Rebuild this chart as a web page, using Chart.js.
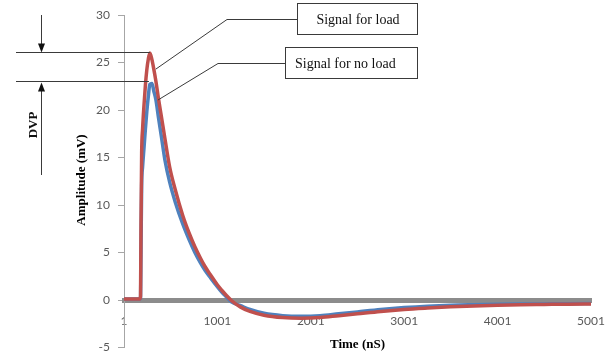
<!DOCTYPE html>
<html>
<head>
<meta charset="utf-8">
<script src="https://cdn.jsdelivr.net/npm/chart.js@4/dist/chart.umd.min.js"></script>
<style>
  html, body { margin: 0; padding: 0; background: #fff; }
  #wrap { width: 608px; height: 352px; }
</style>
</head>
<body>
<div id="wrap"><canvas id="chart" width="608" height="352"></canvas></div>
<script>
// time axis (nS) and the two measured signals (mV)
const timeNs = [1, 100, 170, 178, 183, 190, 200, 215, 230, 245, 262, 278, 300, 320, 343, 370, 400, 439, 490, 550,
  630, 700, 760, 820, 870, 930, 1000, 1050, 1100, 1150, 1250, 1350, 1500, 1700, 1900, 2100, 2300, 2500, 2750, 3000,
  3250, 3500, 3750, 4000, 4250, 4500, 4750, 5001];
const signalLoad = [0.1, 0.1, 0.1, 0.4, 8, 15.5, 18, 20.5, 22.6, 24.2, 25.4, 26.0, 25.3, 24.3, 23.0, 21.2, 19.4, 17.0, 14.0, 11.6,
  8.9, 7.0, 5.6, 4.4, 3.5, 2.6, 1.6, 1.0, 0.45, -0.05, -0.75, -1.2, -1.6, -1.85, -1.92, -1.85, -1.65, -1.45, -1.2, -1.0,
  -0.85, -0.72, -0.62, -0.55, -0.5, -0.47, -0.44, -0.42];
const signalNoLoad = [0.1, 0.1, 0.1, 0.2, 5, 12, 14, 16, 18, 19.8, 21.5, 22.7, 22.8, 22.0, 21.05, 19.2, 17.3, 14.75, 12.4, 10.3,
  8.0, 6.3, 5.0, 3.9, 3.1, 2.3, 1.4, 0.8, 0.3, -0.2, -0.6, -1.0, -1.4, -1.65, -1.72, -1.65, -1.45, -1.25, -1.0, -0.8,
  -0.65, -0.55, -0.5, -0.46, -0.43, -0.41, -0.39, -0.37];
const xTicks = [1, 1001, 2001, 3001, 4001, 5001];
const yTicks = [-5, 0, 5, 10, 15, 20, 25, 30];

// where the call-out leaders touch each curve
const loadLabelAt = 320;
const noLoadLabelAt = 343;

const serif = '"Liberation Serif", "Times New Roman", serif';
const RED = '#C0504D';
const BLUE = '#4F81BD';

function toPoints(vals) {
  return timeNs.map((t, i) => ({ x: t, y: vals[i] }));
}

function peakOf(vals) {
  let k = 0;
  vals.forEach((v, i) => { if (v > vals[k]) k = i; });
  return k;
}

function arrow(ctx, x, yFrom, yTo) {
  const dir = yTo > yFrom ? 1 : -1;
  ctx.beginPath();
  ctx.moveTo(x, yFrom);
  ctx.lineTo(x, yTo - dir * 8);
  ctx.stroke();
  ctx.beginPath();
  ctx.moveTo(x, yTo);
  ctx.lineTo(x - 3.5, yTo - dir * 9);
  ctx.lineTo(x + 3.5, yTo - dir * 9);
  ctx.closePath();
  ctx.fill();
}

function callout(ctx, box, text, textX, elbowX, tx, ty) {
  const midY = Math.round(box.y + box.h / 2) + 0.5;
  ctx.beginPath();
  ctx.moveTo(box.x, midY);
  ctx.lineTo(elbowX, midY);
  ctx.lineTo(tx, ty);
  ctx.stroke();
  ctx.strokeRect(box.x + 0.5, box.y + 0.5, box.w, box.h);
  ctx.fillText(text, textX, midY + 1);
}

const annotations = {
  id: 'annotations',
  afterDraw(chart) {
    const { ctx, chartArea, scales: { x, y } } = chart;
    ctx.save();
    ctx.strokeStyle = '#3a3a3a';
    ctx.fillStyle = '#111';
    ctx.lineWidth = 1;

    // DVP: horizontal marks at the two peaks
    const pL = peakOf(signalLoad), pN = peakOf(signalNoLoad);
    const yL = Math.round(y.getPixelForValue(signalLoad[pL]) - 1.5) + 0.5;
    const yN = Math.round(y.getPixelForValue(signalNoLoad[pN]) - 2) + 0.5;
    ctx.beginPath();
    ctx.moveTo(16, yL); ctx.lineTo(x.getPixelForValue(timeNs[pL]), yL);
    ctx.moveTo(16, yN); ctx.lineTo(x.getPixelForValue(timeNs[pN]) - 3, yN);
    ctx.stroke();
    arrow(ctx, 41.5, 15, yL);
    arrow(ctx, 41.5, 175, yN + 1);

    ctx.font = 'bold 13px ' + serif;
    ctx.textAlign = 'center';
    ctx.textBaseline = 'middle';
    ctx.save();
    ctx.translate(33.5, 125);
    ctx.rotate(-Math.PI / 2);
    ctx.fillText('DVP', 0, 0);
    ctx.restore();

    // axis titles
    ctx.fillStyle = '#000';
    ctx.save();
    ctx.translate(82, 180);
    ctx.rotate(-Math.PI / 2);
    ctx.fillText('Amplitude (mV)', 0, 0);
    ctx.restore();
    ctx.fillText('Time (nS)', (chartArea.left + chartArea.right) / 2, 345);

    // call-out boxes
    ctx.font = '14px ' + serif;
    ctx.fillStyle = '#111';
    const iL = timeNs.indexOf(loadLabelAt), iN = timeNs.indexOf(noLoadLabelAt);
    ctx.textAlign = 'center';
    callout(ctx, { x: 297, y: 3, w: 120, h: 31 }, 'Signal for load', 358, 227,
      x.getPixelForValue(timeNs[iL]) + 2, y.getPixelForValue(signalLoad[iL]));
    ctx.textAlign = 'left';
    callout(ctx, { x: 285, y: 47, w: 132, h: 31 }, 'Signal for no load', 295, 218,
      x.getPixelForValue(timeNs[iN]) + 2, y.getPixelForValue(signalNoLoad[iN]));
    ctx.restore();
  }
};

new Chart(document.getElementById('chart'), {
  type: 'line',
  data: {
    datasets: [
      {
        label: 'Signal for load',
        data: toPoints(signalLoad),
        borderColor: RED,
        borderWidth: 3.5,
        pointRadius: 0,
        cubicInterpolationMode: 'monotone'
      },
      {
        label: 'Signal for no load',
        data: toPoints(signalNoLoad),
        borderColor: BLUE,
        borderWidth: 3.5,
        pointRadius: 0,
        cubicInterpolationMode: 'monotone'
      }
    ]
  },
  options: {
    responsive: false,
    animation: false,
    devicePixelRatio: 1,
    layout: { padding: { left: 0, top: 15, right: 17, bottom: 4.5 } },
    plugins: { legend: { display: false }, tooltip: { enabled: false } },
    scales: {
      x: {
        type: 'linear',
        position: { y: 0 },
        min: 1,
        max: 5001,
        afterBuildTicks: s => { s.ticks = xTicks.map(v => ({ value: v })); },
        afterFit: s => { s.paddingLeft = 0; s.paddingRight = 0; },
        grid: { display: false, drawTicks: false },
        border: { display: true, color: '#8c8c8c', width: 5 },
        ticks: {
          padding: 14,
          maxRotation: 0,
          autoSkip: false,
          color: '#595959',
          font: { family: 'Lato', size: 12 },
          callback: v => String(v)
        }
      },
      y: {
        min: -5,
        max: 30,
        afterBuildTicks: s => { s.ticks = yTicks.map(v => ({ value: v })); },
        afterFit: s => { s.width = 124; s.paddingTop = 0; s.paddingBottom = 0; },
        grid: { drawOnChartArea: false, drawTicks: true, tickLength: 6, color: '#a6a6a6' },
        border: { display: true, color: '#a6a6a6', width: 1 },
        ticks: {
          padding: 8,
          color: '#595959',
          font: { family: 'Lato', size: 12 }
        }
      }
    }
  },
  plugins: [annotations]
});
</script>
</body>
</html>
